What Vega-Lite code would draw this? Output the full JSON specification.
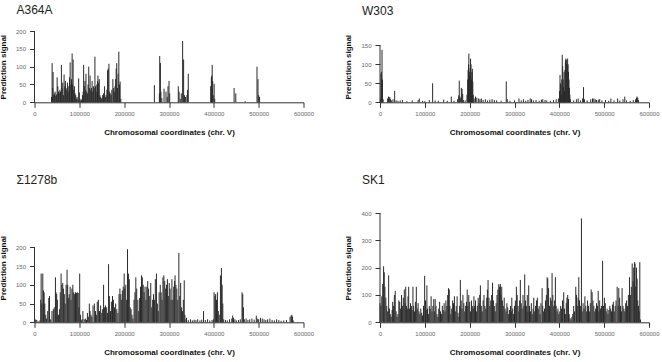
{
 "$schema": "https://vega.github.io/schema/vega-lite/v6.json",
 "background": "white",
 "padding": {"left": -1.5, "top": 4, "right": 0, "bottom": 0},
 "columns": 2,
 "bounds": "flush",
 "spacing": {"column": 76.5, "row": 110},
 "config": {
  "view": {"stroke": null},
  "font": "Liberation Sans",
  "axis": {"grid": false, "domainColor": "#333", "tickColor": "#333", "tickSize": 5, "labelFontSize": 6, "labelColor": "#666", "labelFont": "Liberation Sans", "titleFont": "Liberation Sans", "titleFontSize": 8, "titleFontWeight": "bold", "titleColor": "#111", "labelFlush": false, "labelOverlap": false},
  "axisX": {"labelPadding": 3, "titlePadding": 12},
  "axisY": {"domain": false, "labelPadding": 4, "titlePadding": 8, "labelAngle": 0},
  "title": {"anchor": "start", "frame": "group", "dx": -18, "fontSize": 12, "fontWeight": "normal", "font": "Liberation Sans", "color": "#222", "baseline": "alphabetic"}
 },
 "datasets": {
  "a": [
   {"x":38000,"y":15},{"x":39300,"y":110},{"x":40500,"y":40},{"x":41500,"y":85},{"x":43000,"y":20},{"x":44500,"y":25},{"x":46000,"y":30},{"x":47500,"y":18},{"x":49000,"y":22},{"x":50500,"y":70},{"x":52000,"y":45},{"x":53500,"y":30},{"x":55000,"y":25},{"x":56500,"y":35},{"x":58000,"y":30},{"x":60000,"y":105},{"x":61500,"y":40},{"x":63000,"y":55},{"x":64500,"y":20},{"x":66000,"y":78},{"x":67500,"y":45},{"x":69000,"y":60},{"x":70500,"y":40},{"x":72000,"y":35},{"x":73500,"y":55},{"x":75000,"y":30},{"x":76500,"y":45},{"x":78000,"y":70},{"x":79500,"y":112},{"x":81000,"y":50},{"x":82500,"y":65},{"x":83900,"y":137},{"x":85000,"y":50},{"x":86100,"y":120},{"x":87500,"y":35},{"x":89000,"y":45},{"x":90500,"y":25},{"x":92000,"y":20},{"x":93500,"y":10},{"x":95000,"y":15},{"x":96500,"y":8},{"x":98500,"y":67},{"x":100000,"y":28},{"x":101500,"y":10},{"x":103000,"y":5},{"x":105000,"y":8},{"x":107000,"y":20},{"x":108500,"y":30},{"x":109600,"y":105},{"x":111000,"y":45},{"x":112500,"y":60},{"x":114000,"y":35},{"x":114800,"y":80},{"x":116500,"y":30},{"x":118000,"y":25},{"x":119500,"y":50},{"x":121000,"y":100},{"x":122500,"y":40},{"x":124000,"y":75},{"x":125500,"y":35},{"x":127000,"y":40},{"x":128500,"y":60},{"x":130000,"y":30},{"x":131500,"y":45},{"x":133000,"y":40},{"x":134800,"y":128},{"x":136000,"y":45},{"x":137500,"y":30},{"x":139000,"y":50},{"x":140500,"y":60},{"x":141500,"y":75},{"x":143000,"y":55},{"x":144500,"y":65},{"x":146000,"y":20},{"x":147500,"y":15},{"x":149000,"y":10},{"x":150500,"y":12},{"x":152000,"y":20},{"x":154000,"y":25},{"x":156300,"y":45},{"x":158000,"y":15},{"x":160000,"y":20},{"x":161500,"y":35},{"x":163000,"y":90},{"x":164500,"y":95},{"x":166000,"y":108},{"x":167500,"y":30},{"x":169000,"y":25},{"x":171000,"y":20},{"x":172500,"y":35},{"x":174800,"y":65},{"x":176500,"y":40},{"x":178000,"y":30},{"x":179500,"y":45},{"x":181000,"y":65},{"x":182200,"y":95},{"x":183500,"y":110},{"x":185000,"y":40},{"x":186500,"y":80},{"x":188100,"y":142},{"x":189500,"y":50},{"x":191000,"y":58},{"x":192500,"y":10},
   {"x":267400,"y":48},{"x":278500,"y":25},{"x":279300,"y":130},{"x":280800,"y":110},{"x":282000,"y":30},{"x":284000,"y":12},{"x":288900,"y":38},{"x":293300,"y":30},{"x":296000,"y":15},{"x":297800,"y":45},{"x":300000,"y":60},{"x":301500,"y":25},{"x":320700,"y":45},{"x":322500,"y":30},{"x":325000,"y":10},{"x":327400,"y":25},{"x":330400,"y":172},{"x":332600,"y":120},{"x":334500,"y":20},{"x":337000,"y":15},{"x":340000,"y":20},{"x":341500,"y":35},{"x":343000,"y":80},{"x":393000,"y":45},{"x":394500,"y":70},{"x":395500,"y":75},{"x":396300,"y":105},{"x":397500,"y":60},{"x":398500,"y":20},{"x":400700,"y":52},{"x":402000,"y":10},{"x":445200,"y":40},{"x":448900,"y":25},{"x":470000,"y":3},{"x":496300,"y":100},{"x":498500,"y":65},{"x":500000,"y":20},{"x":502000,"y":15}
  ],
  "w": [
   {"x":1000,"y":10},{"x":2200,"y":75},{"x":3000,"y":80},{"x":4500,"y":138},{"x":5500,"y":60},{"x":7000,"y":8},{"x":17000,"y":10},{"x":19000,"y":15},{"x":20500,"y":12},{"x":22000,"y":14},{"x":23500,"y":8},{"x":26000,"y":5},{"x":29000,"y":8},{"x":32700,"y":30},{"x":36000,"y":5},{"x":40000,"y":4},{"x":45000,"y":5},{"x":50000,"y":6},{"x":60000,"y":3},{"x":72000,"y":5},{"x":85000,"y":6},{"x":87700,"y":10},{"x":95000,"y":4},{"x":100000,"y":3},{"x":110000,"y":6},{"x":117400,"y":50},{"x":123000,"y":5},{"x":130000,"y":4},{"x":142000,"y":7},{"x":150000,"y":4},{"x":159000,"y":15},{"x":165000,"y":4},{"x":173000,"y":8},{"x":175500,"y":18},{"x":176800,"y":57},{"x":178000,"y":15},{"x":180000,"y":12},{"x":181500,"y":38},{"x":183000,"y":35},{"x":184500,"y":22},{"x":186000,"y":6},{"x":190000,"y":5},{"x":194000,"y":20},{"x":195500,"y":60},{"x":196500,"y":85},{"x":197500,"y":100},{"x":198200,"y":128},{"x":199000,"y":80},{"x":200000,"y":70},{"x":201000,"y":90},{"x":202000,"y":115},{"x":203000,"y":100},{"x":204000,"y":60},{"x":205000,"y":80},{"x":206000,"y":88},{"x":207000,"y":55},{"x":208000,"y":20},{"x":210000,"y":10},{"x":213000,"y":15},{"x":216000,"y":12},{"x":220000,"y":10},{"x":223000,"y":8},{"x":226000,"y":10},{"x":230000,"y":6},{"x":235000,"y":8},{"x":240000,"y":5},{"x":245000,"y":7},{"x":250000,"y":8},{"x":255000,"y":6},{"x":260000,"y":5},{"x":270000,"y":4},{"x":281600,"y":55},{"x":284000,"y":8},{"x":290000,"y":4},{"x":300000,"y":5},{"x":310000,"y":10},{"x":315000,"y":5},{"x":320000,"y":8},{"x":325000,"y":4},{"x":330000,"y":6},{"x":335000,"y":10},{"x":338000,"y":8},{"x":342000,"y":5},{"x":348000,"y":6},{"x":355000,"y":4},{"x":360000,"y":7},{"x":363000,"y":8},{"x":368000,"y":6},{"x":372000,"y":5},{"x":380000,"y":4},{"x":387000,"y":6},{"x":393000,"y":8},{"x":398000,"y":10},{"x":400500,"y":30},{"x":401500,"y":72},{"x":402500,"y":50},{"x":403500,"y":45},{"x":404500,"y":20},{"x":405500,"y":60},{"x":406500,"y":125},{"x":407500,"y":95},{"x":408500,"y":60},{"x":409500,"y":40},{"x":410500,"y":80},{"x":411500,"y":30},{"x":412500,"y":85},{"x":413500,"y":110},{"x":414500,"y":115},{"x":415500,"y":112},{"x":416500,"y":100},{"x":417500,"y":95},{"x":418500,"y":115},{"x":419500,"y":100},{"x":420500,"y":80},{"x":421500,"y":60},{"x":422500,"y":38},{"x":423500,"y":20},{"x":425000,"y":8},{"x":432000,"y":5},{"x":438000,"y":8},{"x":442000,"y":10},{"x":447000,"y":5},{"x":452000,"y":10},{"x":454000,"y":40},{"x":456000,"y":8},{"x":462000,"y":5},{"x":470000,"y":8},{"x":474000,"y":10},{"x":477000,"y":10},{"x":480000,"y":8},{"x":483000,"y":6},{"x":487000,"y":7},{"x":490000,"y":8},{"x":495000,"y":5},{"x":503000,"y":6},{"x":510000,"y":4},{"x":515000,"y":10},{"x":522000,"y":5},{"x":530000,"y":10},{"x":535000,"y":5},{"x":542000,"y":8},{"x":546000,"y":15},{"x":550000,"y":5},{"x":558000,"y":4},{"x":565000,"y":6},{"x":570000,"y":8},{"x":572000,"y":12},{"x":573500,"y":15},{"x":575000,"y":12},{"x":576500,"y":6}
  ],
  "s": [
   {"x":1000,"y":8},{"x":3000,"y":7},{"x":5000,"y":6},{"x":8000,"y":3},{"x":12000,"y":5},{"x":14000,"y":60},{"x":14800,"y":130},{"x":16500,"y":50},{"x":18500,"y":130},{"x":20000,"y":85},{"x":21500,"y":80},{"x":23000,"y":50},{"x":25000,"y":20},{"x":27000,"y":10},{"x":29500,"y":30},{"x":31900,"y":65},{"x":33500,"y":70},{"x":36000,"y":8},{"x":39000,"y":30},{"x":42000,"y":35},{"x":44000,"y":40},{"x":46700,"y":120},{"x":48000,"y":80},{"x":49500,"y":75},{"x":51000,"y":60},{"x":53500,"y":20},{"x":56000,"y":35},{"x":57500,"y":80},{"x":59300,"y":130},{"x":61000,"y":100},{"x":63000,"y":105},{"x":64500,"y":90},{"x":66500,"y":75},{"x":68500,"y":50},{"x":70500,"y":100},{"x":72600,"y":140},{"x":74000,"y":100},{"x":75500,"y":65},{"x":77500,"y":75},{"x":79500,"y":95},{"x":81500,"y":60},{"x":83500,"y":90},{"x":85500,"y":100},{"x":87500,"y":80},{"x":89500,"y":75},{"x":91500,"y":80},{"x":93500,"y":78},{"x":95500,"y":80},{"x":97500,"y":78},{"x":99000,"y":40},{"x":100800,"y":130},{"x":102500,"y":20},{"x":104500,"y":5},{"x":106000,"y":8},{"x":108000,"y":30},{"x":111000,"y":8},{"x":114000,"y":10},{"x":116000,"y":6},{"x":118000,"y":25},{"x":120000,"y":15},{"x":122300,"y":50},{"x":124000,"y":30},{"x":126000,"y":20},{"x":128000,"y":15},{"x":130500,"y":45},{"x":133500,"y":50},{"x":136000,"y":30},{"x":138000,"y":20},{"x":140000,"y":55},{"x":142500,"y":60},{"x":145000,"y":30},{"x":147500,"y":45},{"x":150000,"y":25},{"x":152000,"y":35},{"x":154100,"y":100},{"x":156000,"y":40},{"x":158500,"y":45},{"x":161000,"y":40},{"x":163000,"y":25},{"x":165200,"y":155},{"x":167000,"y":70},{"x":169500,"y":30},{"x":171500,"y":55},{"x":174000,"y":70},{"x":176000,"y":60},{"x":178500,"y":40},{"x":181000,"y":50},{"x":183500,"y":35},{"x":186000,"y":25},{"x":188500,"y":75},{"x":190500,"y":90},{"x":192500,"y":75},{"x":194500,"y":60},{"x":196000,"y":85},{"x":198000,"y":95},{"x":200000,"y":130},{"x":201500,"y":90},{"x":203500,"y":100},{"x":205500,"y":60},{"x":207500,"y":195},{"x":209500,"y":130},{"x":211500,"y":115},{"x":213500,"y":40},{"x":215500,"y":35},{"x":217500,"y":20},{"x":219500,"y":10},{"x":222000,"y":60},{"x":224000,"y":80},{"x":226000,"y":120},{"x":228000,"y":90},{"x":230500,"y":60},{"x":232500,"y":30},{"x":234500,"y":65},{"x":236500,"y":95},{"x":238600,"y":125},{"x":240500,"y":120},{"x":242500,"y":100},{"x":244500,"y":80},{"x":246500,"y":95},{"x":248500,"y":60},{"x":250500,"y":95},{"x":252500,"y":110},{"x":254500,"y":90},{"x":257000,"y":70},{"x":259300,"y":105},{"x":261500,"y":40},{"x":263500,"y":60},{"x":265500,"y":75},{"x":267500,"y":60},{"x":269500,"y":115},{"x":272000,"y":130},{"x":274000,"y":50},{"x":276000,"y":30},{"x":278000,"y":80},{"x":280500,"y":100},{"x":282500,"y":80},{"x":284500,"y":60},{"x":286500,"y":120},{"x":288500,"y":125},{"x":290500,"y":110},{"x":292500,"y":90},{"x":294500,"y":100},{"x":296500,"y":115},{"x":298500,"y":70},{"x":300500,"y":105},{"x":302500,"y":90},{"x":304500,"y":60},{"x":306500,"y":115},{"x":308500,"y":60},{"x":310500,"y":95},{"x":312500,"y":110},{"x":313500,"y":125},{"x":315500,"y":100},{"x":317500,"y":90},{"x":319500,"y":60},{"x":322000,"y":185},{"x":324000,"y":70},{"x":326000,"y":105},{"x":328000,"y":40},{"x":330000,"y":30},{"x":332000,"y":60},{"x":334000,"y":112},{"x":335500,"y":20},{"x":338000,"y":8},{"x":339000,"y":12},{"x":343000,"y":6},{"x":348000,"y":8},{"x":352000,"y":5},{"x":356000,"y":7},{"x":360000,"y":6},{"x":364000,"y":8},{"x":369000,"y":5},{"x":373000,"y":7},{"x":377000,"y":30},{"x":381000,"y":6},{"x":386000,"y":8},{"x":391000,"y":5},{"x":396000,"y":6},{"x":399000,"y":8},{"x":400600,"y":80},{"x":402500,"y":70},{"x":404000,"y":75},{"x":406000,"y":60},{"x":408000,"y":80},{"x":410000,"y":30},{"x":412000,"y":20},{"x":414700,"y":125},{"x":416900,"y":145},{"x":418500,"y":100},{"x":420000,"y":50},{"x":422000,"y":8},{"x":426000,"y":6},{"x":430000,"y":5},{"x":435000,"y":8},{"x":440000,"y":10},{"x":442000,"y":18},{"x":444000,"y":12},{"x":447000,"y":8},{"x":450000,"y":5},{"x":455000,"y":6},{"x":459000,"y":8},{"x":462900,"y":80},{"x":464500,"y":75},{"x":466000,"y":40},{"x":468000,"y":8},{"x":472000,"y":10},{"x":476000,"y":6},{"x":480000,"y":8},{"x":485000,"y":10},{"x":490000,"y":7},{"x":494700,"y":18},{"x":497000,"y":10},{"x":500000,"y":8},{"x":504000,"y":12},{"x":508000,"y":10},{"x":512000,"y":8},{"x":516000,"y":6},{"x":520000,"y":8},{"x":525000,"y":10},{"x":530000,"y":6},{"x":535000,"y":5},{"x":540000,"y":8},{"x":545000,"y":6},{"x":550000,"y":4},{"x":556000,"y":5},{"x":562000,"y":6},{"x":570000,"y":15},{"x":572500,"y":18},{"x":574000,"y":20},{"x":575500,"y":15},{"x":577000,"y":5}
  ],
  "k": [
   {"x":0,"y":70},{"x":2000,"y":60},{"x":4000,"y":95},{"x":6000,"y":140},{"x":8000,"y":205},{"x":9500,"y":183},{"x":11000,"y":130},{"x":13000,"y":90},{"x":15000,"y":60},{"x":17000,"y":40},{"x":19300,"y":172},{"x":21000,"y":50},{"x":23000,"y":30},{"x":25000,"y":20},{"x":27000,"y":45},{"x":28300,"y":75},{"x":30000,"y":60},{"x":32000,"y":100},{"x":34000,"y":115},{"x":36000,"y":40},{"x":38000,"y":20},{"x":40000,"y":30},{"x":42000,"y":80},{"x":44000,"y":75},{"x":46000,"y":50},{"x":48000,"y":100},{"x":50000,"y":60},{"x":52000,"y":90},{"x":54200,"y":120},{"x":56000,"y":70},{"x":57400,"y":130},{"x":59000,"y":60},{"x":61000,"y":50},{"x":62500,"y":95},{"x":64000,"y":130},{"x":66000,"y":50},{"x":68000,"y":70},{"x":70000,"y":60},{"x":71500,"y":45},{"x":73500,"y":130},{"x":75000,"y":60},{"x":77000,"y":40},{"x":79000,"y":75},{"x":81000,"y":130},{"x":83000,"y":50},{"x":85000,"y":70},{"x":87000,"y":40},{"x":89000,"y":30},{"x":91000,"y":50},{"x":93000,"y":35},{"x":95000,"y":25},{"x":97000,"y":60},{"x":99600,"y":170},{"x":101500,"y":80},{"x":103000,"y":45},{"x":104600,"y":135},{"x":106000,"y":50},{"x":108000,"y":30},{"x":110000,"y":60},{"x":112000,"y":50},{"x":114000,"y":95},{"x":116000,"y":40},{"x":118000,"y":60},{"x":120000,"y":85},{"x":122000,"y":40},{"x":123000,"y":85},{"x":125000,"y":60},{"x":127000,"y":30},{"x":129000,"y":20},{"x":131000,"y":50},{"x":133000,"y":75},{"x":135000,"y":40},{"x":137000,"y":30},{"x":139000,"y":60},{"x":141000,"y":45},{"x":143000,"y":70},{"x":145000,"y":40},{"x":147000,"y":80},{"x":149000,"y":60},{"x":151000,"y":100},{"x":152700,"y":125},{"x":154600,"y":120},{"x":156000,"y":60},{"x":158000,"y":30},{"x":160000,"y":50},{"x":162000,"y":80},{"x":164000,"y":70},{"x":166000,"y":95},{"x":168000,"y":40},{"x":170000,"y":60},{"x":172000,"y":95},{"x":174000,"y":35},{"x":176000,"y":20},{"x":177500,"y":60},{"x":179200,"y":155},{"x":181000,"y":80},{"x":183000,"y":50},{"x":185000,"y":100},{"x":187000,"y":70},{"x":189000,"y":40},{"x":191000,"y":60},{"x":193000,"y":75},{"x":194500,"y":120},{"x":196000,"y":60},{"x":198000,"y":100},{"x":200000,"y":75},{"x":202000,"y":40},{"x":204000,"y":80},{"x":206000,"y":60},{"x":208000,"y":50},{"x":209500,"y":95},{"x":211000,"y":60},{"x":213000,"y":80},{"x":215000,"y":40},{"x":217000,"y":60},{"x":219000,"y":90},{"x":221000,"y":70},{"x":222500,"y":100},{"x":223900,"y":135},{"x":226000,"y":60},{"x":228000,"y":40},{"x":230000,"y":80},{"x":232000,"y":100},{"x":234000,"y":60},{"x":236000,"y":50},{"x":238000,"y":90},{"x":239500,"y":120},{"x":241000,"y":155},{"x":243000,"y":90},{"x":245000,"y":60},{"x":247000,"y":80},{"x":249000,"y":100},{"x":251000,"y":145},{"x":253000,"y":80},{"x":255000,"y":60},{"x":257000,"y":40},{"x":259000,"y":70},{"x":261000,"y":100},{"x":263000,"y":120},{"x":265000,"y":140},{"x":266500,"y":130},{"x":268500,"y":140},{"x":270000,"y":100},{"x":271500,"y":130},{"x":273000,"y":80},{"x":275000,"y":60},{"x":277000,"y":90},{"x":279000,"y":50},{"x":281000,"y":40},{"x":283000,"y":70},{"x":285000,"y":55},{"x":287000,"y":30},{"x":289000,"y":45},{"x":291000,"y":60},{"x":293000,"y":40},{"x":294000,"y":90},{"x":296000,"y":50},{"x":298000,"y":30},{"x":300000,"y":60},{"x":302000,"y":80},{"x":304200,"y":130},{"x":306000,"y":100},{"x":308000,"y":60},{"x":310000,"y":40},{"x":311500,"y":80},{"x":313000,"y":155},{"x":315000,"y":70},{"x":317000,"y":50},{"x":319000,"y":100},{"x":321000,"y":60},{"x":322800,"y":175},{"x":324500,"y":80},{"x":326500,"y":60},{"x":328500,"y":100},{"x":330000,"y":40},{"x":331700,"y":135},{"x":333500,"y":60},{"x":335500,"y":40},{"x":337500,"y":70},{"x":339500,"y":30},{"x":341500,"y":50},{"x":343000,"y":90},{"x":345000,"y":40},{"x":347000,"y":60},{"x":349000,"y":80},{"x":351000,"y":90},{"x":353000,"y":50},{"x":355000,"y":60},{"x":357000,"y":30},{"x":359000,"y":70},{"x":361600,"y":125},{"x":363000,"y":60},{"x":365000,"y":40},{"x":367000,"y":50},{"x":369000,"y":80},{"x":371000,"y":100},{"x":372800,"y":165},{"x":374200,"y":160},{"x":376000,"y":125},{"x":378000,"y":60},{"x":380000,"y":90},{"x":382000,"y":80},{"x":383800,"y":180},{"x":385500,"y":100},{"x":387500,"y":60},{"x":389500,"y":80},{"x":391200,"y":165},{"x":393000,"y":60},{"x":395000,"y":40},{"x":397000,"y":50},{"x":399000,"y":30},{"x":401000,"y":40},{"x":403000,"y":60},{"x":405000,"y":50},{"x":407000,"y":80},{"x":409800,"y":110},{"x":411500,"y":50},{"x":413500,"y":30},{"x":415500,"y":70},{"x":417000,"y":90},{"x":418700,"y":100},{"x":420500,"y":85},{"x":422000,"y":30},{"x":424000,"y":15},{"x":426000,"y":10},{"x":428000,"y":20},{"x":430000,"y":30},{"x":432000,"y":60},{"x":434000,"y":40},{"x":436700,"y":130},{"x":438200,"y":100},{"x":440000,"y":60},{"x":441800,"y":90},{"x":443400,"y":165},{"x":445000,"y":80},{"x":447000,"y":60},{"x":449300,"y":380},{"x":451000,"y":40},{"x":453000,"y":70},{"x":455000,"y":50},{"x":457000,"y":95},{"x":459000,"y":60},{"x":461000,"y":40},{"x":463000,"y":80},{"x":465000,"y":60},{"x":467000,"y":40},{"x":469000,"y":70},{"x":471000,"y":120},{"x":473100,"y":110},{"x":475000,"y":80},{"x":477000,"y":60},{"x":479000,"y":40},{"x":481000,"y":50},{"x":483000,"y":70},{"x":485000,"y":60},{"x":486700,"y":115},{"x":488500,"y":40},{"x":490000,"y":80},{"x":492000,"y":50},{"x":494000,"y":60},{"x":496500,"y":225},{"x":498500,"y":60},{"x":500500,"y":90},{"x":502500,"y":70},{"x":504500,"y":40},{"x":506500,"y":50},{"x":508500,"y":30},{"x":510500,"y":45},{"x":512500,"y":60},{"x":514500,"y":50},{"x":516500,"y":40},{"x":518500,"y":65},{"x":520500,"y":75},{"x":522500,"y":40},{"x":524500,"y":60},{"x":526500,"y":80},{"x":529000,"y":130},{"x":531000,"y":60},{"x":532600,"y":125},{"x":534500,"y":90},{"x":536500,"y":60},{"x":538500,"y":40},{"x":540000,"y":125},{"x":542000,"y":60},{"x":544000,"y":50},{"x":546000,"y":40},{"x":548000,"y":70},{"x":550000,"y":80},{"x":552000,"y":60},{"x":554000,"y":100},{"x":556500,"y":165},{"x":558500,"y":100},{"x":560500,"y":130},{"x":562500,"y":215},{"x":564500,"y":150},{"x":566000,"y":200},{"x":567500,"y":220},{"x":569000,"y":215},{"x":570500,"y":130},{"x":572000,"y":200},{"x":573500,"y":160},{"x":575000,"y":80},{"x":576500,"y":60},{"x":578000,"y":40},{"x":579500,"y":220},{"x":581000,"y":10}
  ]
 },
 "concat": [
  {
   "width": 269, "height": 71.3,
   "title": {"text": "A364A", "offset": 11},
   "data": {"name": "a"},
   "layer": [
    {"mark": {"type": "rule", "color": "#2a2a2a", "strokeWidth": 1},
     "encoding": {
      "x": {"field": "x", "type": "quantitative", "scale": {"domain": [0, 600000], "nice": false}, "axis": {"values": [0,100000,200000,300000,400000,500000,600000], "format": "d", "title": "Chromosomal coordinates (chr. V)"}},
      "y": {"field": "y", "type": "quantitative", "scale": {"domain": [0, 200], "nice": false}, "axis": {"values": [0,50,100,150,200], "title": "Prediction signal"}},
      "y2": {"datum": 0}
     }},
    {"data": {"values": [{"v": 0}]}, "mark": {"type": "rule", "color": "#333", "strokeWidth": 1},
     "encoding": {
      "x": {"datum": 0, "type": "quantitative", "scale": {"domain": [0, 600000], "nice": false}, "axis": {"values": [0,100000,200000,300000,400000,500000,600000], "format": "d", "title": "Chromosomal coordinates (chr. V)"}},
      "y": {"datum": 0, "type": "quantitative", "scale": {"domain": [0, 200], "nice": false}, "axis": {"values": [0,50,100,150,200], "title": "Prediction signal"}},
      "y2": {"datum": 200}}}
   ]
  },
  {
   "width": 269, "height": 71.3,
   "title": {"text": "W303", "offset": 13},
   "data": {"name": "w"},
   "layer": [
    {"mark": {"type": "rule", "color": "#2a2a2a", "strokeWidth": 1},
     "encoding": {
      "x": {"field": "x", "type": "quantitative", "scale": {"domain": [0, 600000], "nice": false}, "axis": {"values": [0,100000,200000,300000,400000,500000,600000], "format": "d", "title": "Chromosomal coordinates (chr. V)"}},
      "y": {"field": "y", "type": "quantitative", "scale": {"domain": [0, 187.6], "nice": false}, "axis": {"values": [0,50,100,150], "title": "Prediction signal"}},
      "y2": {"datum": 0}
     }},
    {"data": {"values": [{"v": 0}]}, "mark": {"type": "rule", "color": "#333", "strokeWidth": 1},
     "encoding": {
      "x": {"datum": 0, "type": "quantitative", "scale": {"domain": [0, 600000], "nice": false}, "axis": {"values": [0,100000,200000,300000,400000,500000,600000], "format": "d", "title": "Chromosomal coordinates (chr. V)"}},
      "y": {"datum": 0, "type": "quantitative", "scale": {"domain": [0, 187.6], "nice": false}, "axis": {"values": [0,50,100,150], "title": "Prediction signal"}},
      "y2": {"datum": 150}}}
   ]
  },
  {
   "width": 269, "height": 109.3,
   "title": {"text": "Σ1278b", "offset": 26},
   "data": {"name": "s"},
   "layer": [
    {"mark": {"type": "rule", "color": "#2a2a2a", "strokeWidth": 1},
     "encoding": {
      "x": {"field": "x", "type": "quantitative", "scale": {"domain": [0, 600000], "nice": false}, "axis": {"values": [0,100000,200000,300000,400000,500000,600000], "format": "d", "title": "Chromosomal coordinates (chr. V)"}},
      "y": {"field": "y", "type": "quantitative", "scale": {"domain": [0, 291.5], "nice": false}, "axis": {"values": [0,50,100,150,200], "title": "Prediction signal"}},
      "y2": {"datum": 0}
     }},
    {"data": {"values": [{"v": 0}]}, "mark": {"type": "rule", "color": "#333", "strokeWidth": 1},
     "encoding": {
      "x": {"datum": 0, "type": "quantitative", "scale": {"domain": [0, 600000], "nice": false}, "axis": {"values": [0,100000,200000,300000,400000,500000,600000], "format": "d", "title": "Chromosomal coordinates (chr. V)"}},
      "y": {"datum": 0, "type": "quantitative", "scale": {"domain": [0, 291.5], "nice": false}, "axis": {"values": [0,50,100,150,200], "title": "Prediction signal"}},
      "y2": {"datum": 200}}}
   ]
  },
  {
   "width": 269, "height": 109.3,
   "title": {"text": "SK1", "offset": 23},
   "data": {"name": "k"},
   "layer": [
    {"mark": {"type": "rule", "color": "#2a2a2a", "strokeWidth": 1},
     "encoding": {
      "x": {"field": "x", "type": "quantitative", "scale": {"domain": [0, 600000], "nice": false}, "axis": {"values": [0,100000,200000,300000,400000,500000,600000], "format": "d", "title": "Chromosomal coordinates (chr. V)"}},
      "y": {"field": "y", "type": "quantitative", "scale": {"domain": [0, 400], "nice": false}, "axis": {"values": [0,100,200,300,400], "title": "Prediction signal"}},
      "y2": {"datum": 0}
     }},
    {"data": {"values": [{"v": 0}]}, "mark": {"type": "rule", "color": "#333", "strokeWidth": 1},
     "encoding": {
      "x": {"datum": 0, "type": "quantitative", "scale": {"domain": [0, 600000], "nice": false}, "axis": {"values": [0,100000,200000,300000,400000,500000,600000], "format": "d", "title": "Chromosomal coordinates (chr. V)"}},
      "y": {"datum": 0, "type": "quantitative", "scale": {"domain": [0, 400], "nice": false}, "axis": {"values": [0,100,200,300,400], "title": "Prediction signal"}},
      "y2": {"datum": 400}}}
   ]
  }
 ]
}
